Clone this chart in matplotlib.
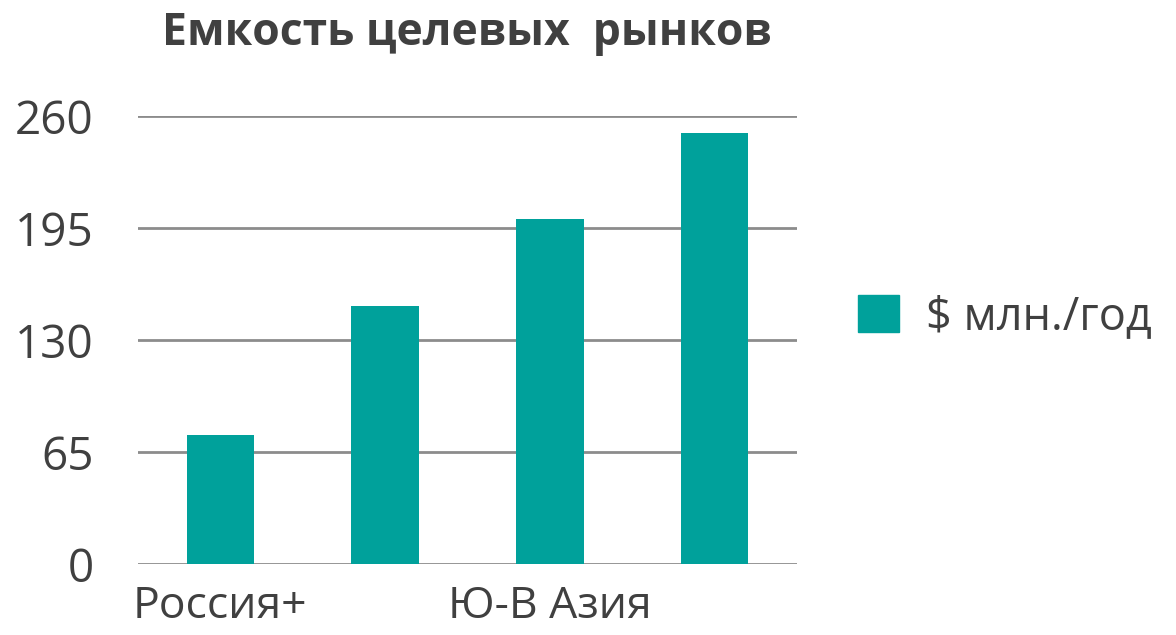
import matplotlib
matplotlib.use("Agg")
import matplotlib.pyplot as plt
from matplotlib.patches import Patch

# data
categories = ["Россия+", "", "Ю-В Азия", ""]
values = [75, 150, 200, 250]
yticks = [0, 65, 130, 195, 260]
series_name = "$ млн./год"
title = "Емкость целевых  рынков"

TEAL = "#00A19B"
TXT = "#404040"
GRID = "#8c8c8c"

plt.rcParams["font.family"] = ["Open Sans", "DejaVu Sans"]

fig = plt.figure(figsize=(11.76, 6.35), dpi=100)
ax = fig.add_axes([138/1176, 71/635, 659/1176, 448/635])

x = range(len(values))
ax.bar(x, values, width=0.41, color=TEAL, zorder=3, label=series_name)
ax.set_xlim(-0.5, 3.5)
ax.set_ylim(0, 260)
ax.set_yticks(yticks)
ax.set_yticklabels([str(v) for v in yticks], fontsize=33, color=TXT)
ax.set_xticks(list(x))
ax.set_xticklabels(categories, fontsize=32, color=TXT)
ax.tick_params(axis="both", length=0)
ax.tick_params(axis="y", pad=32)
ax.tick_params(axis="x", pad=15)
ax.grid(axis="y", color=GRID, linewidth=2, zorder=0)
for s in ax.spines.values():
    s.set_visible(False)

fig.text(467/1176, 1 - 33/635, title, ha="center", va="center",
         fontsize=32, fontweight="bold", color=TXT)

fig.legend(handles=[Patch(color=TEAL, label=series_name)], loc="center left",
           bbox_to_anchor=(840/1176, 1 - 317/635), frameon=False, fontsize=32.5,
           labelcolor=TXT, handlelength=0.9, handleheight=0.9, handletextpad=0.6,
           borderaxespad=0)

fig.savefig("out.png", dpi=100)
